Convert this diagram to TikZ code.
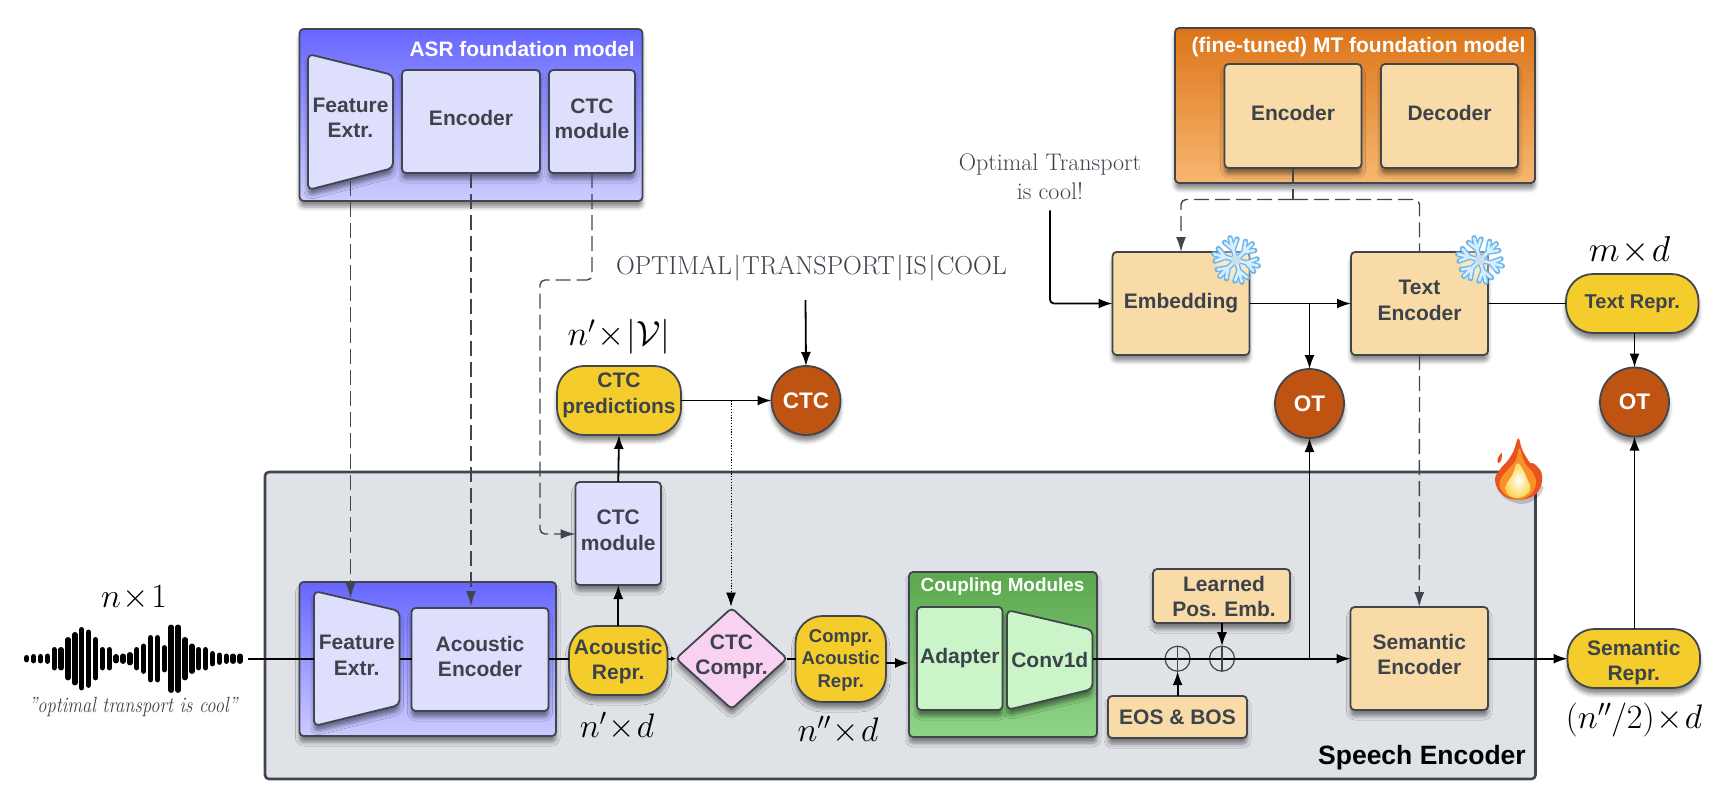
\RequirePackage{fix-cm}
\documentclass[tikz,border=0pt]{standalone}
\usepackage{fontspec}
\newfontfamily\lib{Liberation Sans}
\usetikzlibrary{arrows.meta,shadows.blur,calc}
\definecolor{ink}{HTML}{3D434B}
\definecolor{edge}{HTML}{41464E}
\definecolor{lav}{HTML}{DEDFFC}
\definecolor{sand}{HTML}{F8DBA6}
\definecolor{mint}{HTML}{CBF4C9}
\definecolor{yel}{HTML}{F4CD2D}
\definecolor{rust}{HTML}{BF5312}
\definecolor{panel}{HTML}{DFE2E7}
\definecolor{pinkd}{HTML}{F8D2F0}
\definecolor{bluetop}{RGB}{102,102,255}
\definecolor{bluebot}{RGB}{204,204,255}
\definecolor{ortop}{RGB}{221,117,25}
\definecolor{ormid}{RGB}{239,150,58}
\definecolor{orbot}{RGB}{246,183,111}
\definecolor{grtop}{RGB}{91,168,78}
\definecolor{grbot}{RGB}{143,212,136}
\definecolor{snowo}{RGB}{110,182,236}
\definecolor{snowi}{RGB}{214,239,255}
\definecolor{snowc}{RGB}{205,222,232}
\definecolor{firea}{RGB}{235,82,33}
\definecolor{fireb}{RGB}{247,147,38}
\definecolor{firec}{RGB}{252,214,80}
\tikzset{
  sz/.style={font=\lib\bfseries\fontsize{#1}{30}\selectfont},
  shad/.style={blur shadow={shadow xshift=0pt,shadow yshift=-6pt,shadow blur radius=4pt,shadow opacity=45}},
  basebox/.style={draw=edge,line width=1.8pt,rounded corners=4pt,inner sep=0pt,outer sep=0pt,align=center,text=ink,shad},
  lavbox/.style={basebox,fill=lav,font=\lib\bfseries\fontsize{21}{25.5}\selectfont},
  sandbox/.style={basebox,fill=sand,font=\lib\bfseries\fontsize{21}{25.5}\selectfont},
  mintbox/.style={basebox,fill=mint,font=\lib\bfseries\fontsize{21}{25.5}\selectfont},
  yelbox/.style={basebox,fill=yel,rounded corners=27pt,font=\lib\bfseries\fontsize{21}{25.5}\selectfont},
  txt/.style={inner sep=0pt,outer sep=0pt,align=center,text=ink,font=\lib\bfseries\fontsize{21}{25.5}\selectfont},
  bluegroup/.style={basebox,top color=bluetop,bottom color=bluebot},
  orangegroup/.style={basebox,top color=ortop,middle color=ormid,bottom color=orbot},
  greengroup/.style={basebox,top color=grtop,bottom color=grbot},
  losscirc/.style={circle,draw=edge,line width=1.8pt,fill=rust,inner sep=0pt,outer sep=0pt,minimum size=69pt,text=white,shad,font=\lib\bfseries\fontsize{22.5}{26}\selectfont},
  wire/.style={line width=1.8pt,black,rounded corners=4pt},
  tipw/.style={-{Latex[length=14pt,width=10pt]}},
  dashw/.style={line width=1.4pt,edge,dash pattern=on 15pt off 6pt,rounded corners=5pt},
  tipd/.style={-{Latex[length=15pt,width=10pt]}},
  dotw/.style={line width=.9pt,black,dash pattern=on 1.2pt off 1.6pt},
  plusc/.style={circle,draw=edge,line width=1.2pt,fill=panel,inner sep=0pt,outer sep=0pt,minimum size=25pt},
  serifl/.style={inner sep=0pt,outer sep=0pt,text=ink,align=center,font=\fontsize{24}{29}\selectfont},
  dims/.style={inner sep=0pt,outer sep=0pt,text=black,font=\fontsize{#1}{40}\selectfont},
  dims/.default=34,
}
\newcommand{\tl}[2]{\raisebox{#1pt}[\height][\depth]{\begin{tabular}{@{}c@{}}#2\end{tabular}}}
\newcommand{\vbarsep}{\kern1.5pt$|$\kern1.5pt}
\newcommand{\bx}[7]{%
  \pgfmathsetmacro\mcx{(#2+#4)/2}\pgfmathsetmacro\mcy{(#3+#5)/2}%
  \pgfmathsetmacro\mw{#4-#2}\pgfmathsetmacro\mh{#5-#3}%
  \node[#6,minimum width=\mw pt,minimum height=\mh pt] (#1) at (\mcx,\mcy) {#7};}
\newcommand{\snowflake}[2]{%
  \begin{scope}[shift={(#1,#2)}]
    \fill[white,opacity=.35] (0,0) circle (20pt);
    \foreach \a in {105,45,-15,-75,-135,165}{
      \begin{scope}[rotate=\a]
        \draw[line width=5.4pt,line cap=round,line join=round,snowo] (0,0) -- (23,0) (11,0) -- (20,6.5) (11,0) -- (20,-6.5);
      \end{scope}}
    \foreach \a in {105,45,-15,-75,-135,165}{
      \begin{scope}[rotate=\a]
        \draw[line width=2.6pt,line cap=round,line join=round,snowi] (0,0) -- (22.5,0) (11,0) -- (19.5,6) (11,0) -- (19.5,-6);
      \end{scope}}
    \fill[snowc] (0,0) circle (5pt);
  \end{scope}}
\begin{document}
\begin{tikzpicture}[x=1pt,y=-1pt]
\useasboundingbox (0,0) rectangle (1732,807);
\coordinate (main) at (0,658.7);

% Speech encoder panel
\bx{speech}{265}{472}{1535.5}{779}{draw=edge,line width=2.6pt,rounded corners=4pt,fill=panel,inner sep=0pt,outer sep=0pt}{}
\node[anchor=east,inner sep=0pt,text=black,sz=26.5] (speechlab) at (1526,758) {Speech Encoder};

% ASR foundation model
\bx{asr}{299.5}{29}{642.5}{201}{bluegroup}{}
\node[anchor=east,inner sep=0pt,text=white,sz=20.9] (asrlab) at (635,49) {ASR foundation model};
\path[basebox,fill=lav,rounded corners=5pt] (308,54) -- (393,75) -- (393,168) -- (308,190) -- cycle;
\bx{asrfe}{308}{54}{393}{182}{txt}{Feature\\Extr.}
\bx{asrenc}{402}{70}{540}{173}{lavbox}{\tl{1.5}{Encoder}}
\bx{asrctc}{549}{70}{635}{173}{lavbox}{\tl{0.5}{CTC\\module}}

% MT foundation model
\bx{mt}{1175}{28}{1535}{183}{orangegroup}{}
\node[anchor=east,inner sep=0pt,text=white,sz=21] (mtlab) at (1525.5,47) {(fine-tuned) MT foundation model};
\bx{mtenc}{1224.5}{64}{1361.5}{168}{sandbox}{\tl{1}{Encoder}}
\bx{mtdec}{1381}{64}{1518}{168}{sandbox}{\tl{1}{Decoder}}

% Text branch
\bx{embed}{1112.5}{252}{1249.5}{355}{sandbox}{Embedding}
\bx{textenc}{1351}{252}{1488}{355}{sandbox}{\tl{1}{Text\\Encoder}}
\bx{textrepr}{1566}{274}{1698.5}{333}{yelbox}{\fontsize{20}{24}\selectfont Text Repr.}
\node[losscirc] (ot1) at (1309.5,403.5) {OT};
\node[losscirc] (ot2) at (1634.5,402) {OT};
\node[serifl] (optxt) at (1050,176.5) {Optimal Transport\\is cool!};
\node[dims=36] (mxd) at (1629.5,250) {$m\!\times\! d$};

% CTC branch
\node[serifl,font=\fontsize{26}{30}\selectfont] (ctcref) at (811.5,268) {OPTIMAL\vbarsep TRANSPORT\vbarsep IS\vbarsep COOL};
\node[dims=35] (nvocab) at (619,337) {$n'\!\times\!|\mathcal{V}|$};
\bx{ctcp}{557}{366}{681}{435}{yelbox}{\tl{5}{CTC\\predictions}}
\node[losscirc] (ctc) at (806,400.5) {CTC};
\bx{ctcm}{575.5}{482}{661}{585}{lavbox}{\tl{1}{CTC\\module}}

% Lower feature group
\bx{lowgrp}{299.5}{582}{556}{736}{bluegroup}{}
\path[basebox,fill=lav,rounded corners=5pt] (314,591) -- (399.5,611) -- (399.5,705) -- (314,726) -- cycle;
\bx{lowfe}{314}{591}{399.5}{726}{txt}{\tl{1}{Feature\\Extr.}}
\bx{acenc}{411.5}{608}{548.5}{711}{lavbox}{\tl{0.5}{Acoustic\\Encoder}}
\bx{acrepr}{569}{626}{667.5}{695}{yelbox}{\tl{-1.5}{Acoustic\\Repr.}}
\path[basebox,fill=pinkd,rounded corners=4pt] (731.7,608) -- (787,658.5) -- (731.7,709) -- (676,658.5) -- cycle;
\bx{compr}{676}{608}{787}{709}{txt}{\tl{1.5}{CTC\\Compr.}}
\bx{comprrepr}{795.5}{616}{886}{702}{yelbox}{\fontsize{18.5}{22.5}\selectfont\tl{-1}{Compr.\\Acoustic\\Repr.}}

% Coupling
\bx{coup}{909}{572}{1097}{737}{greengroup}{}
\node[inner sep=0pt,text=white,sz=18.9] (couplab) at (1002.5,587) {Coupling Modules};
\bx{adapter}{917}{607}{1002.5}{710}{mintbox}{Adapter}
\path[basebox,fill=mint,rounded corners=5pt] (1007,610) -- (1092.5,630) -- (1092.5,689) -- (1007,710) -- cycle;
\bx{conv}{1007}{610}{1092.5}{710}{txt}{Conv1d}

\bx{learned}{1153}{569}{1290}{623}{sandbox}{\tl{-3}{\hspace*{5pt}Learned\\\hspace*{5pt}Pos. Emb.}}
\bx{eos}{1108}{696}{1247}{738}{sandbox}{EOS \& BOS}
\bx{semenc}{1350.5}{607}{1488}{710}{sandbox}{\tl{1.5}{Semantic\\Encoder}}
\bx{semrepr}{1567.5}{629}{1700}{688}{yelbox}{\tl{-4.5}{Semantic\\Repr.}}

\node[dims] (nd1) at (617,726) {$n'\!\times\! d$};
\node[dims] (nd2) at (838,730) {$n''\!\times\! d$};
\node[dims] (nd3) at (1634,720) {$(n''/2)\!\times\! d$};
\node[dims] (n1) at (134,598) {$n\!\times\! 1$};
\node[serifl,font=\itshape\fontsize{22}{26}\selectfont] (cap) at (133,707) {\scalebox{.84}[1]{"optimal transport is cool"}};

% waveform
\node[inner sep=0pt,minimum width=218pt,minimum height=70pt] (wave) at (134,658.7) {};
\foreach \i/\h in {0/7,1/9,2/9,3/10,4/23,5/23,6/43,7/53,8/63,9/58,10/43,11/23,12/23,13/9,14/10,15/13,16/23,17/30,18/47,19/47,20/27,21/68,22/68,23/43,24/30,25/23,26/23,27/15,28/12,29/10,30/10,31/10}{
  \draw[line width=5.4pt,line cap=round,black] ({26.7+\i*6.88},{658.7-(\h-5)/2}) -- ({26.7+\i*6.88},{658.7+(\h-5)/2});
}
\coordinate (waveout) at (248,658.7);

% plus nodes
\node[plusc] (p1) at (1177.6,658.7) {};
\node[plusc] (p2) at (1222,658.7) {};

% solid connectors
\draw[wire] (waveout) -- (lowfe.west|-main);
\draw[wire] (lowfe.east|-main) -- (acenc.west|-main);
\draw[wire] (acenc.east|-main) -- (acrepr.west|-main);
\draw[wire,-{Latex[length=5pt,width=5pt]}] (acrepr.east|-main) -- (compr.west|-main);
\draw[wire] (compr.east|-main) -- (comprrepr.west|-main);
\coordinate (cpy) at (0,663);
\draw[wire,tipw] (comprrepr.east|-cpy) -- (coup.west|-cpy);
\draw[wire,tipw] (conv.east|-main) -- (semenc.west|-main);
\draw[wire,tipw] (semenc.east|-main) -- (semrepr.west|-main);
\draw[wire,tipw] (ot1|-main) -- (ot1.south);
\draw[wire,tipw] (semrepr.north-|ot2) -- (ot2.south);
\draw[wire,tipw] (textrepr.south-|ot2) -- (ot2.north);
\draw[wire] (textenc.east) -- (textrepr.west);
\draw[wire,tipw] (embed.east) -- (textenc.west);
\draw[wire,tipw] (ot1|-embed.east) -- (ot1.north);
\draw[wire,tipw] (optxt.south) ++(0,11) |- (embed.west);
\draw[wire,tipw] (acrepr.north-|ctcm) -- (ctcm.south);
\draw[wire,tipw] (ctcm.north) -- (ctcp.south);
\draw[wire,tipw] (ctcp.east) -- (ctc.west);
\coordinate (cctop) at (805.5,300);
\draw[wire,tipw] (cctop) -- (ctc.north);
\draw[wire,tipw] (eos.north-|p1) -- (p1.south);
\draw[wire,tipw] (learned.south-|p2) -- (p2.north);
\draw[line width=1.2pt,edge] (p1.north) -- (p1.south);
\draw[line width=1.2pt,edge] (p2.north) -- (p2.south);
\draw[dotw,-{Latex[length=14pt,width=10pt]}] (731,400.5) -- (731,606.5);

% dashed connectors
\coordinate (fe1out) at (350.5,181);
\coordinate (fe2in) at (350.5,598);
\draw[dashw,tipd] (fe1out) -- (fe2in);
\draw[dashw,tipd] (asrenc.south) -- (471,606);
\coordinate (bendA) at (592,280);
\coordinate (bendB) at (540,280);
\coordinate (bendC) at (540,534);
\draw[dashw,tipd] (asrctc.south) -- (bendA) -- (bendB) -- (bendC) -- (ctcm.west|-bendC);
\coordinate (mtjoin) at (1293,199.5);
\draw[dashw,line width=1.5pt] (mtenc.south-|mtjoin) -- (mtjoin);
\draw[dashw,tipd] (mtjoin) -| (embed.north);
\draw[dashw] (mtjoin) -| (textenc.north);
\draw[dashw,tipd] (textenc.south) -- (semenc.north);

% decorations
\snowflake{1236}{260}
\snowflake{1480}{260}
\begin{scope}[shift={(1485,430)},x=.3333pt,y=-.3333pt]
  \fill[black,opacity=.18] plot[smooth cycle] coordinates {(40,165) (60,205) (110,222) (155,205) (170,165)};
  \fill[firea] plot[smooth cycle,tension=.7] coordinates {(100,25) (112,60) (135,98) (146,100) (170,130) (165,175) (135,203) (85,208) (48,190) (30,150) (45,118) (68,92) (86,62)};
  \fill[firea] (40,100) .. controls (32,90) and (42,76) .. (50,68) .. controls (52,84) and (50,94) .. (40,100);
  \fill[fireb] plot[smooth cycle,tension=.7] coordinates {(103,55) (120,100) (145,130) (152,165) (128,200) (85,205) (50,182) (46,150) (72,115) (93,90)};
  \shade[inner color=white,outer color=firec] plot[smooth cycle,tension=.7] coordinates {(100,100) (128,150) (135,180) (108,202) (75,198) (62,170) (82,135)};
\end{scope}
\end{tikzpicture}
\end{document}
